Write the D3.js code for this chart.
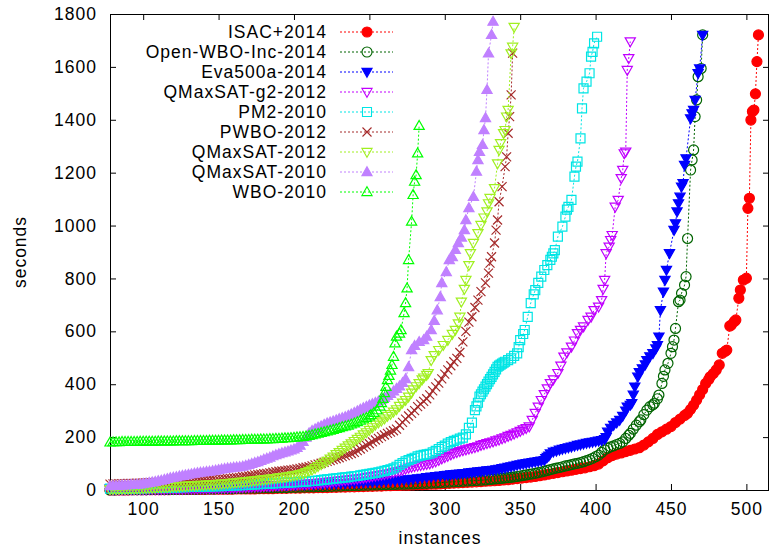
<!DOCTYPE html>
<html>
<head>
<meta charset="utf-8">
<script src="https://d3js.org/d3.v7.min.js"></script>
<style>
    body { margin: 0; background: #fff; }
    svg text { font-family: "Liberation Sans", Arial, sans-serif; font-size: 17.5px; letter-spacing: 1px; fill: #000; }
</style>
</head>
<body>
<svg id="drawing_region"></svg>
<script>
// [instance, seconds] (every 2nd or 3rd instance where the marks pile up)
const isac2014 = [[78,0],[81,0],[84,0],[87,0],[90,0],[93,1],[96,1],[99,1],[102,1],[105,1],[108,1],[111,1],[114,1],[117,1],[120,2],[123,2],[126,2],[129,2],[132,2],[135,2],[138,2],[141,2],[144,3],[147,3],[150,3],[153,3],[156,3],[159,3],[162,4],[165,4],[168,4],[171,4],[174,4],[177,5],[180,5],[183,5],[186,5],[189,6],[192,6],[195,6],[198,7],[201,7],[204,7],[207,8],[210,8],[213,8],[216,9],[219,9],[222,9],[225,10],[228,10],[231,11],[234,11],[237,12],[240,12],[243,13],[246,13],[249,14],[252,14],[255,15],[258,15],[261,16],[264,16],[267,17],[270,17],[273,18],[276,18],[279,19],[282,20],[285,20],[288,21],[291,22],[294,22],[297,23],[300,24],[303,25],[306,26],[309,27],[312,28],[315,29],[318,30],[321,31],[324,32],[327,33],[330,34],[333,35],[336,36],[339,38],[342,39],[345,41],[348,43],[351,45],[354,47],[357,49],[360,51],[363,54],[366,57],[369,60],[372,63],[375,66],[378,69],[381,72],[384,75],[387,78],[390,81],[393,84],[396,88],[399,92],[402,98],[405,110],[408,122],[411,130],[414,136],[417,140],[420,145],[423,150],[426,155],[429,160],[432,170],[435,182],[438,195],[441,210],[444,220],[447,230],[450,240],[453,255],[456,268],[459,282],[461,290],[463,305],[465,321],[467,340],[469,360],[471,380],[473,403],[475,418],[476,428],[478,440],[480,454],[482,473],[484,517],[486,525],[487,529],[489,620],[490,624],[492,637],[493,643],[495,725],[496,756],[498,794],[500,801],[501,1065],[502,1103],[503,1399],[504,1431],[505,1437],[506,1498],[507,1620],[508,1721]];

const openWboInc2014 = [[78,0],[81,0],[84,1],[87,1],[90,1],[93,1],[96,1],[99,1],[102,1],[105,2],[108,2],[111,2],[114,2],[117,2],[120,2],[123,3],[126,3],[129,3],[132,3],[135,3],[138,4],[141,4],[144,4],[147,4],[150,5],[153,5],[156,5],[159,5],[162,6],[165,6],[168,6],[171,7],[174,7],[177,7],[180,8],[183,8],[186,8],[189,9],[192,9],[195,9],[198,10],[201,10],[204,11],[207,11],[210,12],[213,12],[216,13],[219,13],[222,14],[225,14],[228,15],[231,15],[234,16],[237,16],[240,17],[243,17],[246,18],[249,18],[252,19],[255,19],[258,20],[261,20],[264,21],[267,21],[270,22],[273,22],[276,23],[279,23],[282,24],[285,25],[288,25],[291,26],[294,27],[297,28],[300,29],[303,30],[306,31],[309,32],[312,33],[315,34],[318,35],[321,36],[324,37],[327,38],[330,40],[332,41],[334,42],[336,43],[338,44],[340,46],[342,47],[344,48],[346,50],[348,51],[350,53],[352,55],[354,57],[356,59],[358,61],[360,63],[362,66],[364,68],[366,71],[368,74],[370,77],[372,80],[374,83],[376,85],[378,88],[380,91],[382,93],[384,96],[386,99],[388,101],[390,104],[392,107],[394,111],[396,115],[398,120],[400,126],[402,132],[404,142],[406,152],[408,158],[410,163],[412,167],[414,172],[416,176],[418,182],[420,195],[422,207],[423,214],[425,230],[427,245],[429,258],[430,265],[432,285],[434,302],[436,315],[438,322],[439,328],[441,345],[442,359],[444,403],[445,430],[446,454],[448,479],[450,517],[451,542],[452,567],[453,611],[455,712],[456,718],[457,744],[459,775],[460,807],[461,951],[463,1210],[464,1248],[465,1286],[466,1412],[467,1475],[468,1563],[470,1594],[471,1721]];

const eva500a2014 = [[78,5],[81,5],[84,6],[87,6],[90,6],[93,6],[96,7],[99,7],[102,7],[105,7],[108,8],[111,8],[114,8],[117,9],[120,9],[123,9],[126,10],[129,10],[132,10],[135,11],[138,11],[141,11],[144,12],[147,12],[150,12],[153,13],[156,13],[159,13],[162,14],[165,14],[168,15],[171,15],[174,16],[177,16],[180,17],[183,17],[186,18],[189,18],[192,19],[195,19],[198,20],[201,20],[204,21],[207,21],[210,22],[213,22],[216,23],[219,23],[222,24],[225,24],[228,25],[231,25],[234,26],[237,27],[240,27],[243,28],[246,29],[249,30],[252,31],[255,32],[258,33],[261,34],[264,35],[267,36],[270,37],[273,39],[276,40],[279,42],[282,44],[285,46],[288,48],[291,50],[294,52],[297,54],[300,56],[302,57],[304,59],[306,60],[308,61],[310,62],[312,63],[314,64],[316,66],[318,67],[320,68],[322,70],[324,71],[326,72],[328,74],[330,75],[332,76],[334,78],[336,80],[338,82],[340,84],[342,87],[344,89],[346,92],[348,95],[350,97],[352,99],[354,101],[356,103],[358,105],[360,107],[362,109],[364,111],[366,113],[367,120],[368,125],[369,130],[370,138],[372,145],[374,148],[376,152],[378,155],[380,158],[382,161],[384,164],[386,167],[388,170],[390,172],[392,175],[394,178],[396,180],[398,182],[400,184],[402,186],[404,188],[406,192],[407,200],[408,220],[410,235],[412,246],[414,255],[416,265],[418,280],[420,300],[421,315],[423,322],[424,328],[425,360],[426,391],[428,428],[429,445],[431,460],[433,475],[434,491],[436,505],[438,517],[440,535],[441,548],[442,580],[443,680],[445,750],[446,794],[447,832],[449,895],[452,983],[453,1008],[454,1053],[455,1084],[456,1109],[457,1147],[458,1160],[459,1229],[460,1254],[463,1405],[464,1424],[465,1437],[466,1475],[468,1576],[469,1594],[471,1721]];

const qmaxsatG22012 = [[78,1],[80,1],[82,1],[84,1],[86,1],[88,1],[90,2],[92,2],[94,2],[96,2],[98,2],[100,2],[102,2],[104,3],[106,3],[108,3],[110,3],[112,3],[114,3],[116,4],[118,4],[120,4],[122,4],[124,4],[126,4],[128,5],[130,5],[132,5],[134,5],[136,5],[138,6],[140,6],[142,6],[144,6],[146,7],[148,7],[150,7],[152,8],[154,8],[156,8],[158,9],[160,9],[162,9],[164,10],[166,10],[168,11],[170,11],[172,12],[174,12],[176,13],[178,13],[180,14],[182,15],[184,15],[186,16],[188,17],[190,17],[192,18],[194,19],[196,19],[198,20],[200,21],[202,21],[204,22],[206,23],[208,23],[210,24],[212,25],[214,26],[216,27],[218,28],[220,29],[222,30],[224,31],[226,33],[228,34],[230,35],[232,37],[234,38],[236,39],[238,41],[240,42],[242,43],[244,45],[246,46],[248,48],[250,50],[252,52],[254,54],[256,56],[258,58],[260,60],[262,62],[264,64],[266,67],[268,70],[270,72],[272,76],[274,80],[276,84],[278,87],[280,90],[282,92],[284,94],[286,96],[288,98],[290,100],[292,104],[294,108],[296,113],[298,119],[300,124],[302,129],[304,134],[306,139],[308,143],[310,147],[312,150],[314,153],[316,156],[318,159],[320,162],[322,165],[324,170],[326,173],[328,177],[330,180],[332,183],[334,187],[336,190],[338,195],[340,199],[342,204],[344,208],[346,213],[348,218],[350,223],[352,229],[354,234],[356,240],[358,265],[360,291],[362,315],[364,340],[366,362],[368,384],[370,404],[372,418],[375,442],[377,470],[379,504],[381,520],[384,542],[386,565],[388,593],[390,605],[392,618],[395,643],[397,655],[399,680],[402,693],[404,718],[405,760],[406,794],[407,895],[409,920],[410,945],[411,964],[413,1071],[415,1097],[417,1179],[418,1210],[419,1273],[420,1279],[421,1588],[422,1633],[423,1696]];

const pm22010 = [[78,5],[80,5],[82,5],[84,5],[86,6],[88,6],[90,6],[92,6],[94,6],[96,7],[98,7],[100,7],[102,7],[104,8],[106,8],[108,8],[110,8],[112,9],[114,9],[116,9],[118,10],[120,10],[122,10],[124,11],[126,11],[128,11],[130,12],[132,12],[134,12],[136,13],[138,13],[140,13],[142,14],[144,14],[146,14],[148,15],[150,15],[152,15],[154,16],[156,16],[158,17],[160,17],[162,17],[164,18],[166,18],[168,19],[170,20],[172,20],[174,21],[176,22],[178,22],[180,23],[182,24],[184,24],[186,25],[188,26],[190,26],[192,27],[194,28],[196,28],[198,29],[200,30],[202,30],[204,31],[206,32],[208,32],[210,33],[212,34],[214,35],[216,36],[218,37],[220,39],[222,40],[224,41],[226,43],[228,44],[230,45],[232,47],[234,48],[236,49],[238,51],[240,52],[242,53],[244,55],[246,57],[248,59],[250,61],[252,63],[254,65],[256,67],[258,70],[260,72],[262,75],[264,78],[266,82],[268,88],[270,95],[272,102],[274,108],[276,113],[278,118],[280,122],[282,127],[284,130],[286,133],[288,135],[290,137],[292,142],[294,148],[296,155],[298,162],[300,168],[302,175],[304,181],[306,186],[308,190],[310,194],[312,198],[314,210],[316,235],[318,255],[320,302],[321,316],[322,330],[323,353],[324,362],[325,372],[326,381],[327,391],[328,400],[329,410],[330,419],[331,428],[332,437],[333,447],[334,456],[335,466],[336,470],[337,474],[338,478],[339,482],[340,485],[342,491],[344,498],[346,507],[348,517],[349,540],[350,567],[352,590],[353,605],[355,655],[357,707],[359,740],[360,756],[362,783],[364,807],[366,832],[368,850],[370,870],[371,882],[372,895],[373,907],[375,958],[378,996],[380,1034],[381,1060],[382,1071],[384,1097],[386,1185],[387,1223],[388,1242],[390,1330],[391,1443],[392,1519],[394,1544],[396,1576],[397,1639],[398,1657],[399,1689],[401,1714]];

const pwbo2012 = [[78,22],[80,23],[82,23],[84,24],[86,24],[88,24],[90,25],[92,25],[94,25],[96,26],[98,26],[100,27],[102,27],[104,28],[106,28],[108,29],[110,29],[112,29],[114,30],[116,30],[118,31],[120,31],[122,32],[124,32],[126,33],[128,33],[130,33],[132,34],[134,35],[136,35],[138,36],[140,37],[142,37],[144,38],[146,39],[148,39],[150,40],[152,41],[154,42],[156,43],[158,44],[160,46],[162,47],[164,48],[166,50],[168,51],[170,53],[172,55],[174,57],[176,59],[178,60],[180,62],[182,63],[184,65],[186,67],[188,69],[190,71],[192,72],[194,73],[196,75],[198,76],[200,78],[202,80],[204,82],[206,84],[208,86],[210,88],[212,91],[214,95],[216,98],[218,101],[220,105],[222,108],[224,111],[226,115],[228,118],[230,122],[232,126],[234,130],[236,134],[238,138],[240,142],[242,149],[244,155],[246,162],[248,169],[250,175],[252,182],[254,189],[256,195],[258,202],[260,208],[262,214],[264,219],[266,224],[268,230],[270,245],[272,256],[274,268],[276,280],[278,290],[280,300],[282,315],[284,325],[286,335],[288,345],[290,360],[292,375],[294,390],[296,404],[298,420],[300,438],[302,454],[304,470],[306,485],[308,498],[310,520],[312,560],[314,600],[316,635],[318,655],[320,690],[322,718],[324,750],[327,783],[329,820],[330,858],[331,882],[333,934],[334,983],[335,1021],[336,1090],[338,1147],[340,1223],[341,1260],[342,1349],[343,1412],[344,1494],[345,1652]];

const qmaxsat2012 = [[78,3],[80,3],[82,3],[84,4],[86,4],[88,4],[90,5],[92,5],[94,5],[96,6],[98,6],[100,7],[102,8],[104,8],[106,8],[108,9],[110,10],[112,10],[114,11],[116,11],[118,12],[120,13],[122,13],[124,14],[126,15],[128,15],[130,16],[132,17],[134,17],[136,18],[138,19],[140,19],[142,20],[144,21],[146,21],[148,22],[150,23],[152,24],[154,25],[156,26],[158,27],[160,28],[162,29],[164,30],[166,31],[168,32],[170,33],[172,35],[174,36],[176,37],[178,39],[180,40],[182,41],[184,43],[186,44],[188,45],[190,47],[192,48],[194,49],[196,51],[198,53],[200,55],[202,57],[204,60],[206,63],[208,67],[210,72],[212,77],[214,83],[216,90],[218,97],[220,103],[222,110],[224,118],[226,126],[228,135],[230,143],[232,151],[234,160],[236,168],[238,176],[240,185],[242,193],[244,201],[246,210],[248,218],[250,227],[252,237],[254,247],[256,255],[258,262],[260,270],[262,280],[264,287],[266,296],[268,305],[270,318],[272,330],[274,340],[276,353],[278,368],[279,380],[281,392],[283,404],[285,418],[286,425],[288,435],[289,442],[291,491],[293,510],[296,529],[299,548],[302,567],[305,590],[307,605],[309,630],[310,655],[311,712],[313,760],[314,794],[316,850],[317,895],[319,934],[322,971],[324,1002],[326,1030],[328,1053],[329,1084],[330,1104],[333,1141],[335,1235],[336,1286],[337,1311],[339,1349],[340,1361],[341,1412],[342,1437],[344,1651],[345,1676],[346,1751]];

const qmaxsat2010 = [[78,15],[80,16],[82,16],[84,17],[86,18],[88,18],[90,19],[92,20],[94,20],[96,21],[98,22],[100,24],[102,25],[104,27],[106,29],[108,31],[110,34],[112,36],[114,39],[116,42],[118,45],[120,47],[122,49],[124,52],[126,54],[128,56],[130,58],[132,60],[134,62],[136,64],[138,66],[140,67],[142,69],[144,70],[146,72],[148,74],[150,76],[152,78],[154,80],[156,82],[158,83],[160,85],[162,86],[164,87],[166,89],[168,92],[170,95],[172,99],[174,103],[176,106],[178,110],[180,115],[182,119],[184,123],[186,128],[188,132],[190,136],[192,140],[194,143],[196,146],[198,150],[200,154],[202,160],[204,168],[206,182],[208,198],[210,215],[212,224],[214,230],[216,236],[218,241],[220,247],[222,252],[224,256],[226,260],[228,264],[230,268],[232,272],[234,276],[236,281],[238,286],[240,292],[242,298],[244,304],[246,310],[248,315],[250,320],[252,325],[254,330],[256,335],[258,342],[260,349],[262,356],[264,364],[266,373],[268,383],[270,392],[272,405],[274,420],[276,465],[278,529],[280,545],[283,560],[286,567],[288,580],[291,605],[293,640],[295,680],[297,730],[298,783],[301,824],[303,870],[305,881],[307,908],[309,934],[311,955],[313,983],[314,1021],[316,1066],[319,1109],[321,1204],[322,1248],[323,1279],[325,1305],[326,1361],[327,1407],[328,1513],[329,1651],[331,1721],[332,1771]];

const wbo2010 = [[78,180],[80,181],[82,181],[84,181],[86,182],[88,182],[90,182],[92,182],[94,182],[96,182],[98,183],[100,183],[102,183],[104,183],[106,183],[108,183],[110,184],[112,184],[114,184],[116,184],[118,184],[120,184],[122,185],[124,185],[126,185],[128,185],[130,185],[132,185],[134,186],[136,186],[138,186],[140,186],[142,186],[144,187],[146,187],[148,187],[150,187],[152,188],[154,188],[156,188],[158,188],[160,189],[162,189],[164,189],[166,190],[168,190],[170,190],[172,191],[174,191],[176,191],[178,192],[180,192],[182,192],[184,193],[186,193],[188,194],[190,194],[192,195],[194,196],[196,196],[198,197],[200,198],[202,199],[204,200],[206,201],[208,203],[210,205],[212,208],[214,211],[216,213],[218,216],[220,219],[222,222],[224,225],[226,228],[228,231],[230,234],[232,238],[234,241],[236,244],[238,248],[240,252],[242,257],[244,263],[246,268],[248,273],[250,279],[251,284],[253,292],[255,302],[257,316],[258,329],[259,345],[260,367],[261,390],[262,416],[263,432],[264,452],[265,473],[266,504],[267,555],[268,580],[270,592],[271,605],[273,669],[274,707],[275,763],[276,870],[278,1015],[279,1116],[280,1166],[281,1191],[282,1273],[283,1377]];

const seriesNames = ['ISAC+2014', 'Open-WBO-Inc-2014', 'Eva500a-2014', 'QMaxSAT-g2-2012', 'PM2-2010', 'PWBO-2012', 'QMaxSAT-2012', 'QMaxSAT-2010', 'WBO-2010'];
const seriesData = [isac2014, openWboInc2014, eva500a2014, qmaxsatG22012, pm22010, pwbo2012, qmaxsat2012, qmaxsat2010, wbo2010];
const xTicks = [100, 150, 200, 250, 300, 350, 400, 450, 500];
const yTicks = [0, 200, 400, 600, 800, 1000, 1200, 1400, 1600, 1800];

// look of each series (gnuplot point types)
const seriesColors = ['#ff0000', '#006400', '#0000ff', '#c000ff', '#00e5e5', '#a52a2a', '#a0f020', '#c080ff', '#00ff00'];
const seriesSymbols = ['circle', 'circle', 'down', 'down', 'square', 'cross', 'down', 'up', 'up'];
const seriesFilled = [true, false, true, false, false, false, false, true, false];

const symbolPaths = {
    circle: 'M5,0A5,5 0 1,1 -5,0A5,5 0 1,1 5,0Z',
    up: 'M0,-5.3L5.1,3.6L-5.1,3.6Z',
    down: 'M0,5.3L5.1,-3.6L-5.1,-3.6Z',
    square: 'M-4.5,-4.5H4.5V4.5H-4.5Z',
    cross: 'M-4.5,-4.5L4.5,4.5M4.5,-4.5L-4.5,4.5'
};

const config = {
    parent: '#drawing_region',
    width: 770,
    height: 549,
    margin: { top: 14, right: 1, bottom: 59, left: 110 }
};

const svg = d3.select(config.parent)
    .attr('width', config.width)
    .attr('height', config.height);

const inner_width = config.width - config.margin.left - config.margin.right;
const inner_height = config.height - config.margin.top - config.margin.bottom;

const chart = svg.append('g')
    .attr('transform', `translate(${config.margin.left},${config.margin.top})`);

const xscale = d3.scaleLinear().domain([78, 515]).range([0, inner_width]);
const yscale = d3.scaleLinear().domain([0, 1800]).range([inner_height, 0]);

// ticks point inward on all four sides, labels only bottom / left
const xaxis = d3.axisBottom(xscale).tickValues(xTicks).tickSizeInner(-6).tickSizeOuter(0).tickPadding(13);
const yaxis = d3.axisLeft(yscale).tickValues(yTicks).tickFormat(d3.format('d'))
    .tickSizeInner(-6).tickSizeOuter(0).tickPadding(13);

chart.append('g').attr('transform', `translate(0,${inner_height})`).call(xaxis);
chart.append('g').call(yaxis);
chart.append('g').call(d3.axisTop(xscale).tickValues(xTicks).tickSizeInner(-6).tickSizeOuter(0).tickFormat(''));
chart.append('g').attr('transform', `translate(${inner_width},0)`)
    .call(d3.axisRight(yscale).tickValues(yTicks).tickSizeInner(-6).tickSizeOuter(0).tickFormat(''));
chart.selectAll('.domain').remove();

chart.append('rect')
    .attr('x', 0.5).attr('y', 0.5)
    .attr('width', inner_width - 1).attr('height', inner_height)
    .attr('fill', 'none').attr('stroke', '#000').attr('stroke-width', 1);

chart.append('clipPath').attr('id', 'plot_clip')
    .append('rect').attr('width', inner_width).attr('height', inner_height);

const line = d3.line()
    .x(d => xscale(d[0]))
    .y(d => yscale(d[1]));

seriesData.forEach((data, i) => {
    const g = chart.append('g');
    g.append('path')
        .attr('d', line(data))
        .attr('clip-path', 'url(#plot_clip)')
        .attr('fill', 'none')
        .attr('stroke', seriesColors[i])
        .attr('stroke-width', 1)
        .attr('stroke-dasharray', '2,2');

    g.selectAll('path.pt').data(data).enter()
        .append('path')
        .attr('class', 'pt')
        .attr('d', symbolPaths[seriesSymbols[i]])
        .attr('transform', d => `translate(${xscale(d[0])},${yscale(d[1])})`)
        .attr('fill', seriesFilled[i] ? seriesColors[i] : 'none')
        .attr('stroke', seriesColors[i])
        .attr('stroke-width', 1.2);
});

// key, top left inside the frame
const key = svg.append('g');
seriesNames.forEach((name, i) => {
    const ky = 32 + i * 20;
    key.append('text')
        .attr('x', 327).attr('y', ky)
        .attr('text-anchor', 'end')
        .attr('dominant-baseline', 'central')
        .text(name);
    key.append('line')
        .attr('x1', 340).attr('x2', 393)
        .attr('y1', ky).attr('y2', ky)
        .attr('stroke', seriesColors[i])
        .attr('stroke-width', 1)
        .attr('stroke-dasharray', '2,2');
    key.append('path')
        .attr('d', symbolPaths[seriesSymbols[i]])
        .attr('transform', `translate(367,${ky})`)
        .attr('fill', seriesFilled[i] ? seriesColors[i] : 'none')
        .attr('stroke', seriesColors[i])
        .attr('stroke-width', 1.1);
});

svg.append('text')
    .attr('transform', 'translate(20,252) rotate(-90)')
    .attr('text-anchor', 'middle')
    .attr('dominant-baseline', 'central')
    .text('seconds');

svg.append('text')
    .attr('x', 440).attr('y', 538)
    .attr('text-anchor', 'middle')
    .attr('dominant-baseline', 'central')
    .text('instances');
</script>
</body>
</html>
